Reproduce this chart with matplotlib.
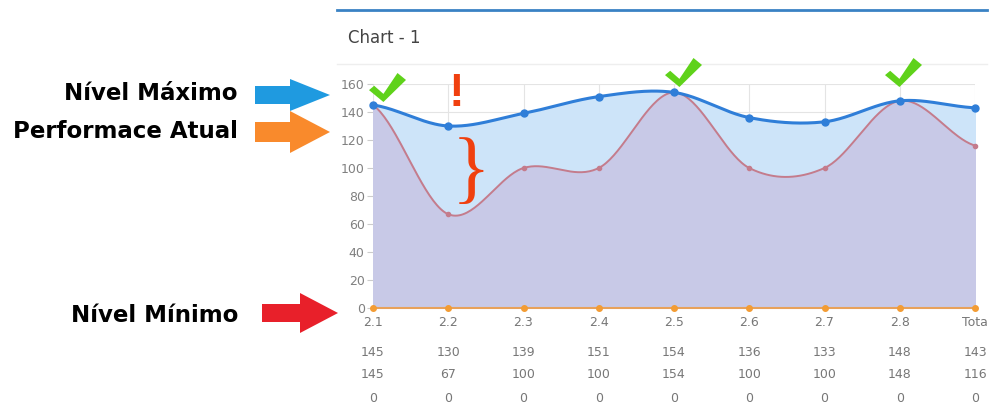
import numpy as np
import matplotlib
matplotlib.use("Agg")
import matplotlib.pyplot as plt
from matplotlib.patches import Polygon
from matplotlib.transforms import blended_transform_factory

categories = ["2.1", "2.2", "2.3", "2.4", "2.5", "2.6", "2.7", "2.8", "Tota"]
nivel_maximo = [145, 130, 139, 151, 154, 136, 133, 148, 143]
performance_atual = [145, 67, 100, 100, 154, 100, 100, 148, 116]
nivel_minimo = [0, 0, 0, 0, 0, 0, 0, 0, 0]


def spline(values, steps=40):
    # Catmull-Rom curve through the points, for the smooth look of the chart
    y = np.asarray(values, dtype=float)
    n = len(y)
    pts = np.concatenate([[y[0]], y, [y[-1]]])
    xs, ys = [], []
    for i in range(n - 1):
        p0, p1, p2, p3 = pts[i], pts[i + 1], pts[i + 2], pts[i + 3]
        m1 = (p2 - p0) / 2
        m2 = (p3 - p1) / 2
        t = np.linspace(0, 1, steps, endpoint=False)
        h00 = 2 * t**3 - 3 * t**2 + 1
        h10 = t**3 - 2 * t**2 + t
        h01 = -2 * t**3 + 3 * t**2
        h11 = t**3 - t**2
        xs.append(i + t)
        ys.append(h00 * p1 + h10 * m1 + h01 * p2 + h11 * m2)
    xs.append([n - 1])
    ys.append([y[-1]])
    return np.concatenate(xs), np.concatenate(ys)


W, H = 991, 403
fig = plt.figure(figsize=(W / 100, H / 100), dpi=100)

# main chart area (pixel layout taken from reference)
left, right, top, bottom = 373, 975, 84, 308
ax = fig.add_axes([left / W, (H - bottom) / H, (right - left) / W, (bottom - top) / H])

x = np.arange(len(categories))
bx, by = spline(nivel_maximo)
rx, ry = spline(performance_atual)

ax.fill_between(bx, 0, by, color="#cde4f9", zorder=1)
ax.fill_between(rx, 0, ry, color="#c8c9e7", zorder=2)
ax.plot(bx, by, color="#2f7ed8", lw=2.2, zorder=4)
ax.plot(x, nivel_maximo, "o", color="#2f7ed8", ms=5, zorder=5, clip_on=False)
ax.plot(rx, ry, color="#c47c8c", lw=1.4, zorder=3)
ax.plot(x, performance_atual, "o", color="#c47c8c", ms=3, zorder=3, clip_on=False)
ax.plot(x, nivel_minimo, color="#e8a15a", lw=1.5, zorder=4, clip_on=False)
ax.plot(x, nivel_minimo, "o", color="#f39c34", ms=4, zorder=5, clip_on=False)

ax.set_xlim(0, 8)
ax.set_ylim(0, 160)
ax.set_yticks(range(0, 161, 20))
ax.set_xticks(x)
ax.set_xticklabels([])
ax.tick_params(axis="x", length=0)
ax.tick_params(axis="y", length=4, color="#cccccc", labelcolor="#808080",
               labelsize=9, pad=2)
ax.grid(True, color="#e4e4e4", lw=0.8, zorder=0)
ax.set_axisbelow(True)
for s in ax.spines.values():
    s.set_visible(False)

# data rows under the axis
tr = blended_transform_factory(ax.transData, fig.transFigure)
rows = [categories, nivel_maximo, performance_atual, nivel_minimo]
row_y = [323, 352, 375, 398]
for row, yp in zip(rows, row_y):
    for i, v in enumerate(row):
        ax.text(i, (H - yp) / H, str(v), transform=tr, ha="center", va="center",
                fontsize=9, color="#777777", clip_on=False)

# overlay for header and annotations, in pixel coordinates
ov = fig.add_axes([0, 0, 1, 1], zorder=10)
ov.set_xlim(0, W)
ov.set_ylim(H, 0)
ov.axis("off")
ov.patch.set_alpha(0)

ov.plot([337, 987], [10, 10], color="#3a82c4", lw=2, zorder=1)
ov.plot([337, 987], [64, 64], color="#eeeeee", lw=1, zorder=1)
ov.text(348, 38, "Chart - 1", fontsize=12, color="#444444", va="center", ha="left")


def arrow(x0, xb, xt, yc, body_h, head_h, color):
    pts = [(x0, yc - body_h / 2), (xb, yc - body_h / 2), (xb, yc - head_h / 2),
           (xt, yc), (xb, yc + head_h / 2), (xb, yc + body_h / 2), (x0, yc + body_h / 2)]
    ov.add_patch(Polygon(pts, closed=True, color=color, lw=0, zorder=3))


def check(x0, y0, w, h):
    shape = [(0, 0.59), (0.39, 1.0), (1.0, 0.24), (0.77, 0.0), (0.39, 0.72), (0.14, 0.44)]
    pts = [(x0 + px * w, y0 + py * h) for px, py in shape]
    ov.add_patch(Polygon(pts, closed=True, color="#5fd21a", lw=0, zorder=3))


arrow(255, 290, 330, 95, 18, 32, "#1f9ae0")
arrow(255, 290, 330, 132, 20, 42, "#f98a2c")
arrow(262, 300, 338, 313, 18, 40, "#e8202a")

label_kw = dict(fontsize=16.5, fontweight="bold", color="black", ha="right", va="center")
ov.text(238, 94, "Nível Máximo", **label_kw)
ov.text(238, 132, "Performace Atual", **label_kw)
ov.text(238, 315, "Nível Mínimo", **label_kw)

check(369, 73, 37, 29)
check(665, 58, 37, 29)
check(885, 58, 37, 29)
ov.text(456, 94, "!", fontsize=34, fontweight="bold", color="#f0400f",
        ha="center", va="center", family="Liberation Sans")
ov.text(471, 174, "}", fontsize=58, color="#f0400f", ha="center", va="center",
        family="Liberation Serif")

fig.savefig("out.png", dpi=100)
